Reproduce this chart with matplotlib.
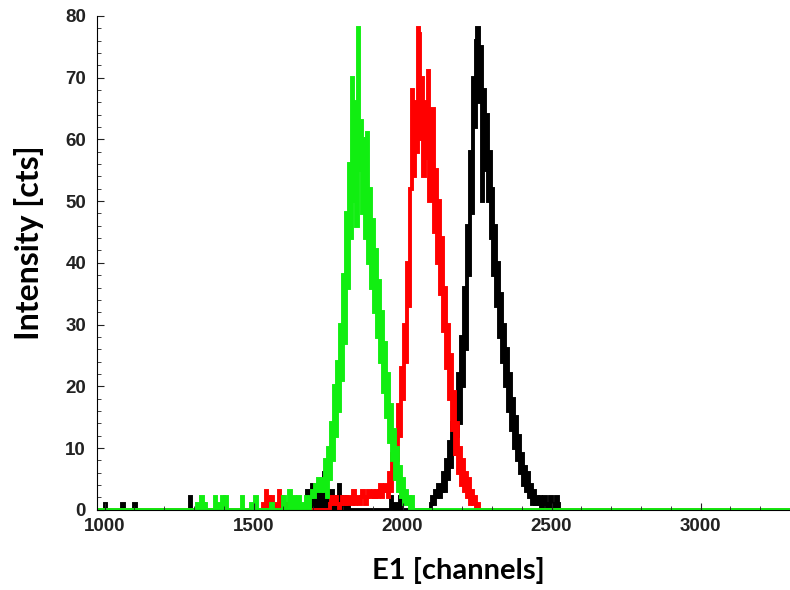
import numpy as np
import matplotlib
matplotlib.use("Agg")
import matplotlib.pyplot as plt
from matplotlib.ticker import MultipleLocator

# channel histogram, 5-channel bins
bin_width = 5
ch_min, ch_max = 975, 3300

# main peaks: first channel + counts per bin
green_start = 1690
green_peak = [2, 3, 2, 4, 3, 5, 4, 3, 5,
              3, 8, 2, 10, 5, 14, 8, 20, 12, 24, 16, 30, 21, 38, 27, 48, 36, 56,
              44, 70, 50, 66, 46, 78, 55, 63, 48, 60, 44, 61, 40, 52, 36, 47, 32,
              42, 28, 37, 24, 32, 19, 27, 15, 22, 11, 17, 8, 13, 5, 10, 3, 7, 2,
              5, 1, 3, 1, 2, 0, 2]

red_start = 1755
red_peak = [1, 2, 1, 1, 2, 1, 0, 1, 2, 1, 1, 2, 1, 2, 2, 1, 3, 1, 2, 2,
            1, 2, 3, 2, 1, 2, 3, 2, 2, 3, 2, 3, 2, 3, 4, 2, 3, 4, 3,
            2, 6, 3, 9, 5, 12, 8, 17, 12, 23, 18, 30, 24, 40, 33, 52, 68, 54,
            66, 58, 78, 77, 60, 70, 54, 66, 57, 71, 50, 60, 65, 45, 55, 40, 50,
            35, 44, 29, 36, 23, 30, 18, 25, 13, 19, 9, 14, 6, 10, 4, 8, 3, 6,
            2, 5, 1, 3, 1, 2, 0, 1]

black_start = 2095
black_peak = [1, 2, 1, 3, 2, 4, 2,
              3, 6, 3, 8, 5, 11, 7, 14, 9, 18, 12, 22, 14, 28, 20, 36, 26, 46,
              38, 58, 48, 70, 62, 76, 78, 66, 75, 50, 68, 55, 64, 50, 58, 44, 52,
              38, 46, 33, 40, 28, 35, 24, 30, 20, 26, 16, 22, 13, 18, 10, 15, 8,
              12, 6, 9, 4, 7, 3, 6, 2, 4, 1, 3, 1, 2, 1, 2, 0, 1, 2, 1, 0, 1,
              2, 0, 1, 0, 2, 1]

# sparse low-count bins away from the peaks
green_bg_ch = [1310, 1325, 1335, 1370, 1380, 1395, 1405, 1460, 1490, 1505,
               1560, 1600, 1620, 1635, 1650, 1665, 1675]
green_bg_val = [1, 2, 1, 2, 1, 2, 2, 2, 1, 2, 1, 2, 3, 2, 2, 1, 2]

red_bg_ch = [1530, 1540, 1550, 1560, 1575, 1585, 1595, 1605]
red_bg_val = [1, 3, 2, 2, 1, 3, 2, 1]

black_bg_ch = [1000, 1060, 1100, 1285, 1330, 1680, 1695, 1705, 1720, 1735,
               1745, 1760, 1770, 1785, 1800, 1815, 1960, 1975, 1990]
black_bg_val = [1, 1, 1, 2, 1, 3, 4, 3, 4, 6, 2, 3, 2, 4, 2, 1, 2, 1, 2]


def build_hist(start, peak, bg_ch, bg_val):
    edges = np.arange(ch_min, ch_max + bin_width, bin_width)
    counts = np.zeros(len(edges) - 1)
    for c, v in zip(bg_ch, bg_val):
        counts[(c - ch_min) // bin_width] = v
    i0 = (start - ch_min) // bin_width
    counts[i0:i0 + len(peak)] = peak
    return edges, counts


fig = plt.figure(figsize=(7.9, 5.9), dpi=100)
ax = fig.add_axes([0.123, 0.136, 0.877, 0.837])

for start, peak, bg_ch, bg_val, col in [
        (black_start, black_peak, black_bg_ch, black_bg_val, "black"),
        (red_start, red_peak, red_bg_ch, red_bg_val, "#ff0000"),
        (green_start, green_peak, green_bg_ch, green_bg_val, "#11ee11")]:
    edges, counts = build_hist(start, peak, bg_ch, bg_val)
    ax.stairs(counts, edges, color=col, linewidth=2.8)

ax.set_xlim(ch_min, ch_max)
ax.set_ylim(0, 80)
ax.xaxis.set_major_locator(MultipleLocator(500))
ax.xaxis.set_minor_locator(MultipleLocator(100))
ax.yaxis.set_major_locator(MultipleLocator(10))
ax.yaxis.set_minor_locator(MultipleLocator(2))
ax.tick_params(which="both", direction="in", labelsize=13.5, colors="#222222")
ax.tick_params(which="major", length=5)
ax.tick_params(which="minor", length=3)
ax.tick_params(axis="y", pad=8)
ax.tick_params(axis="x", pad=6)
for lab in ax.get_xticklabels() + ax.get_yticklabels():
    lab.set_fontweight("bold")
    lab.set_family("Liberation Sans")
ax.spines["top"].set_visible(False)
ax.spines["right"].set_visible(False)

ax.set_xlabel("E1 [channels]", fontsize=21, fontweight="bold", family="Lato")
ax.set_ylabel("Intensity [cts]", fontsize=23, fontweight="bold", family="Lato")
ax.xaxis.set_label_coords(0.522, -0.095)
ax.yaxis.set_label_coords(-0.077, 0.54)

fig.savefig("out.png")
